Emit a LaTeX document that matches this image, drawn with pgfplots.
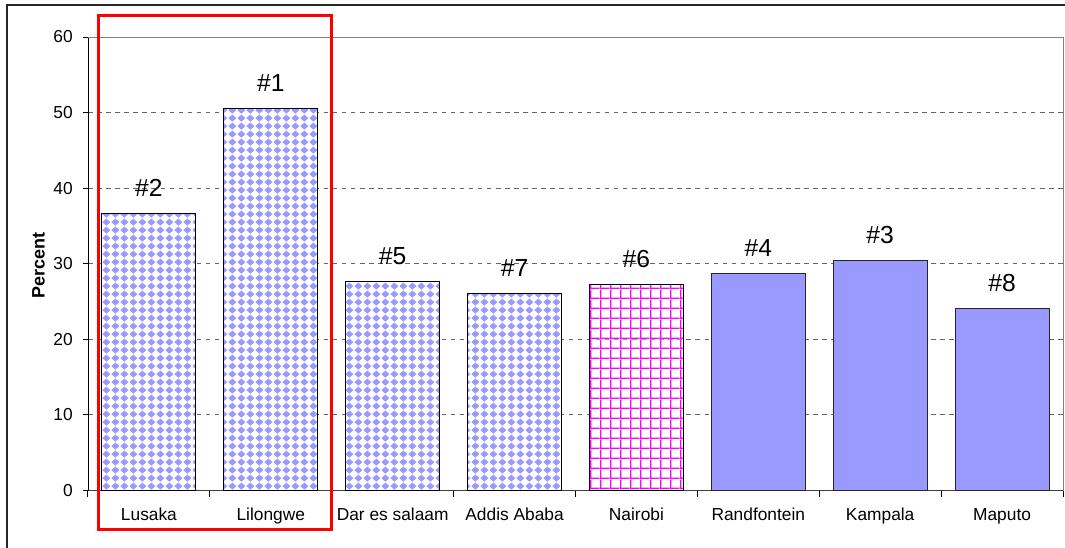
\documentclass[border=0pt]{standalone}
\usepackage{fontspec}
\setmainfont{Liberation Sans}
\usepackage{pgfplots}
\pgfplotsset{compat=1.18}
\usetikzlibrary{patterns}
\definecolor{barblue}{HTML}{9999FF}
\definecolor{gridpink}{HTML}{FF00FF}

\pgfdeclarepatterninherentlycolored{bluediamonds}{\pgfpointorigin}{\pgfqpoint{7pt}{6.25pt}}{\pgfqpoint{7pt}{6.25pt}}{%
  \pgfsetfillcolor{white}%
  \pgfpathrectangle{\pgfpointorigin}{\pgfqpoint{7pt}{6.25pt}}\pgfusepath{fill}%
  \pgfsetfillcolor{barblue}%
  \pgfpathmoveto{\pgfqpoint{3.5pt}{0.25pt}}%
  \pgfpathlineto{\pgfqpoint{6.7pt}{3.125pt}}%
  \pgfpathlineto{\pgfqpoint{3.5pt}{6.0pt}}%
  \pgfpathlineto{\pgfqpoint{0.3pt}{3.125pt}}%
  \pgfpathclose
  \pgfusepath{fill}%
}

\pgfdeclarepatterninherentlycolored{pinkgrid}{\pgfpointorigin}{\pgfqpoint{7.5pt}{7.3pt}}{\pgfqpoint{7.5pt}{7.3pt}}{%
  \pgfsetfillcolor{white}%
  \pgfpathrectangle{\pgfpointorigin}{\pgfqpoint{7.5pt}{7.3pt}}\pgfusepath{fill}%
  \pgfsetfillcolor{gridpink}%
  \pgfpathrectangle{\pgfpointorigin}{\pgfqpoint{1.1pt}{7.3pt}}\pgfusepath{fill}%
  \pgfpathrectangle{\pgfpointorigin}{\pgfqpoint{7.5pt}{1.1pt}}\pgfusepath{fill}%
}

\begin{document}
\begin{tikzpicture}
\useasboundingbox (-66pt,-42.375pt) rectangle (732.75pt,367.875pt);
\begin{axis}[
  at={(0,0)}, anchor=south west,
  scale only axis, width=731.25pt, height=340.125pt,
  xmin=-0.5, xmax=7.5, ymin=0, ymax=60,
  ytick={0,10,...,60},
  xtick={0,...,7},
  xticklabels={Lusaka,Lilongwe,Dar es salaam,Addis Ababa,Nairobi,Randfontein,Kampala,Maputo},
  minor xtick={-0.5,0.5,...,7.5},
  tick align=outside,
  major tick length=3.75pt, minor tick length=4.5pt,
  major x tick style={draw=none},
  tick style={black, line width=0.75pt},
  axis x line*=bottom, axis y line*=left,
  x axis line style={black!75, -}, y axis line style={black, -},
  ymajorgrids,
  major y grid style={black!60, dash pattern=on 3.4pt off 3.4pt, line width=0.75pt},
  /pgf/number format/assume math mode=true,
  tick label style={font=\fontsize{13}{15}\selectfont},
  yticklabel style={inner sep=0pt, xshift=-7.5pt},
  xticklabel style={anchor=base, inner sep=0pt, yshift=-18.75pt},
  ylabel={Percent},
  every axis y label/.style={at={(axis description cs:-0.0507,0.497)}, rotate=90, anchor=center, font=\bfseries\fontsize{13.5}{15}\selectfont},
  clip=false,
  point meta=explicit symbolic,
  nodes near coords,
  every node near coord/.append style={font=\fontsize{18.5}{20}\selectfont, text=black, anchor=base, yshift=12.75pt},
]
\addplot[ybar, bar width=70.5pt, bar shift=0pt, draw=black, line width=0.75pt, pattern=bluediamonds]
  coordinates {(0,36.7) [\#2] (1,50.5) [\#1] (2,27.7) [\#5] (3,26.1) [\#7]};
\addplot[ybar, bar width=70.5pt, bar shift=0pt, draw=black, line width=0.75pt, pattern=pinkgrid]
  coordinates {(4,27.3) [\#6]};
\addplot[ybar, bar width=70.5pt, bar shift=0pt, draw=black!85, line width=0.75pt, fill=barblue]
  coordinates {(5,28.7) [\#4] (6,30.4) [\#3] (7,24.1) [\#8]};
\draw[black!50, line width=0.75pt] (rel axis cs:0,1) -- (rel axis cs:1,1) -- (rel axis cs:1,0);
\end{axis}
\draw[black!85, line width=1.1pt] (-60.75pt,-80pt) -- (-60.75pt,364.125pt) -- (800pt,364.125pt);
\draw[red, line width=2.25pt] (8.25pt,-29.25pt) rectangle (182.6pt,356.25pt);
\end{tikzpicture}
\end{document}
